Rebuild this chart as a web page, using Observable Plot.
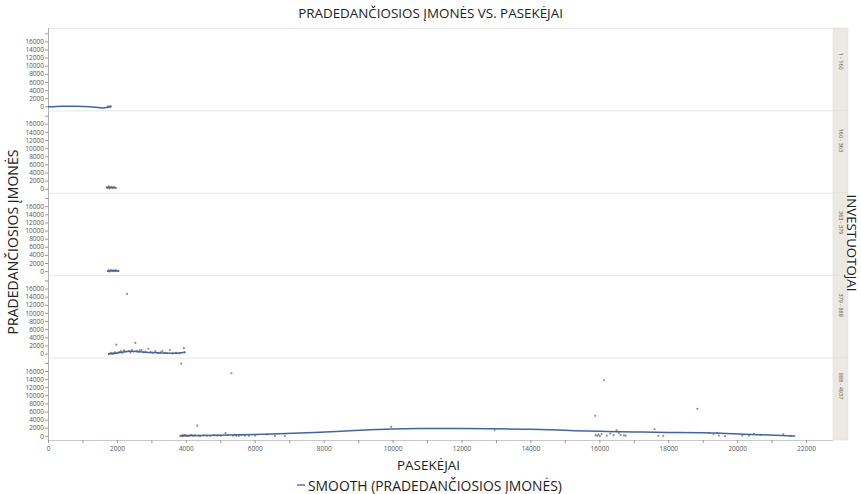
<!DOCTYPE html>
<html><head><meta charset="utf-8">
<script src="https://cdn.jsdelivr.net/npm/d3@7"></script>
<script src="https://cdn.jsdelivr.net/npm/@observablehq/plot@0.6"></script>
<style>body{margin:0;background:#fff;} svg{display:block;font-family:"Open Sans",sans-serif;}</style>
</head><body><div id="chart"></div>
<script>
// Facet categories (INVESTUOTOJAI)
const groups = ["1 - 160", "160 - 363", "363 - 379", "379 - 888", "888 - 4937"];

// Points: PASEKĖJAI (x) and PRADEDANČIOSIOS ĮMONĖS (y), per facet
const g1x = [1720, 1760, 1790, 1810];
const g1y = [50, 150, 0, 100];
const g2x = [1690, 1720, 1750, 1770, 1800, 1830, 1860, 1900, 1950];
const g2y = [500, 300, 700, 200, 400, 600, 300, 500, 250];
const g3x = [1720, 1750, 1780, 1800, 1830, 1860, 1890, 1920, 1950, 1990, 2030];
const g3y = [100, 300, 50, 250, 400, 150, 300, 100, 350, 200, 150];
const g4x = [1750, 1780, 1820, 1850, 1880, 1900, 1930, 1970, 2000, 2050, 2100, 2150, 2190, 2230, 2280, 2330, 2380, 2420, 2470, 2520, 2560, 2600, 2650, 2700, 2760, 2820, 2900, 2960, 3020, 3100, 3180, 3250, 3300, 3380, 3450, 3520, 3600, 3700, 3800, 3930, 3950];
const g4y = [0, 100, 300, 50, 200, 150, 400, 2300, 300, 500, 700, 300, 900, 600, 14800, 800, 400, 1000, 600, 2750, 700, 500, 900, 1000, 400, 600, 1300, 500, 300, 700, 200, 400, 700, 300, 200, 1000, 150, 300, 250, 1450, 400];
const g5x = [3830, 3850, 3880, 3900, 3920, 3950, 3980, 4000, 4050, 4100, 4150, 4200, 4250, 4316, 4350, 4400, 4500, 4600, 4700, 4800, 4900, 5000, 5137, 5200, 5311, 5350, 5400, 5450, 5524, 5600, 5700, 5816, 6000, 6350, 6570, 6860, 9946, 12945, 15866, 15880, 15923, 15960, 16000, 16050, 16118, 16200, 16300, 16400, 16486, 16550, 16600, 16700, 16750, 17588, 17696, 17841, 18827, 19165, 19300, 19407, 19455, 19629, 20132, 20326, 20471, 20664, 21323, 21537];
const g5y = [100, 17950, 300, 50, 200, 400, 150, 300, 100, 250, 400, 150, 300, 2650, 200, 100, 350, 200, 150, 300, 200, 150, 800, 300, 15570, 200, 400, 150, 150, 300, 200, 150, 250, 500, 150, 150, 2360, 1530, 5070, 300, 150, 450, 100, 600, 13840, 200, 700, 300, 1530, 900, 400, 250, 200, 1770, 150, 150, 6800, 900, 600, 900, 220, 50, 220, 220, 640, 390, 540, 50];

// Smooth curves, per facet
const s1x = [0, 400, 800, 1200, 1500, 1700, 1800];
const s1y = [0, 150, 150, 0, -250, -150, 50];
const s2x = [1700, 1800, 1950];
const s2y = [400, 400, 350];
const s3x = [1720, 1880, 2030];
const s3y = [150, 200, 150];
const s4x = [1750, 2000, 2200, 2400, 2600, 2800, 3000, 3300, 3600, 3800, 3950];
const s4y = [50, 250, 550, 700, 600, 450, 350, 250, 200, 250, 450];
const s5x = [3830, 4500, 5500, 6500, 7500, 8500, 9500, 10000, 11000, 12000, 13000, 14000, 15000, 16000, 17000, 18000, 19000, 19500, 20200, 20900, 21650];
const s5y = [150, 250, 400, 600, 900, 1300, 1700, 1850, 1950, 1950, 1900, 1750, 1500, 1250, 1100, 1000, 900, 800, 550, 350, 80];

const xTickValues = [0, 1000, 2000, 3000, 4000, 5000, 6000, 7000, 8000, 9000, 10000, 11000, 12000, 13000, 14000, 15000, 16000, 17000, 18000, 19000, 20000, 21000, 22000];
const yTickValues = [0, 2000, 4000, 6000, 8000, 10000, 12000, 14000, 16000, 18000];

const title = "PRADEDANČIOSIOS ĮMONĖS VS. PASEKĖJAI";
const xTitle = "PASEKĖJAI";
const yTitle = "PRADEDANČIOSIOS ĮMONĖS";
const facetTitle = "INVESTUOTOJAI";
const legendLabel = "SMOOTH (PRADEDANČIOSIOS ĮMONĖS)";

const px = [g1x, g2x, g3x, g4x, g5x], py = [g1y, g2y, g3y, g4y, g5y];
const sx = [s1x, s2x, s3x, s4x, s5x], sy = [s1y, s2y, s3y, s4y, s5y];
const points = groups.flatMap((g, i) => px[i].map((x, j) => ({group: g, x, y: py[i][j]})));
const smooth = groups.flatMap((g, i) => sx[i].map((x, j) => ({group: g, x, y: sy[i][j]})));

const W = 861, H = 494, ML = 48, MR = 28, MT = 28, MB = 54;
const XMAX = 22780, YMIN = -1000, YMAX = 19300;
const stripUnits = 15 * XMAX / (W - ML - MR);
const blue = "#3e64ad";

const plot = Plot.plot({
  width: W, height: H, marginLeft: ML, marginRight: MR, marginTop: MT, marginBottom: MB,
  style: {fontFamily: "Open Sans, sans-serif", fontSize: "6.5px", color: "#555", background: "#fff"},
  x: {domain: [0, XMAX], axis: null},
  y: {domain: [YMIN, YMAX], axis: null},
  fy: {domain: groups, padding: 0, round: false, axis: null},
  marks: [
    Plot.rect(groups, {fy: d => d, x1: XMAX, x2: XMAX + stripUnits, y1: YMIN, y2: YMAX, fill: "#ebe9e2", stroke: "#e2dfd6", strokeWidth: 0.6}),
    Plot.ruleY(groups, {fy: d => d, y: YMAX, stroke: "#e6e6e6", strokeWidth: 1}),
    Plot.ruleY([groups[groups.length - 1]], {fy: d => d, y: YMIN, stroke: "#c8c8c8", strokeWidth: 1}),
    Plot.ruleX([0], {stroke: "#b0b0b0"}),
    Plot.axisY({ticks: yTickValues, tickFormat: d => d > 16000 ? "" : String(d), tickSize: 3, tickPadding: 1.5, fontSize: 6.5, stroke: "#999", label: null}),
    Plot.axisX({ticks: xTickValues, tickFormat: d => d % 2000 ? "" : String(d), tickSize: 3, tickPadding: 3, fontSize: 6.5, stroke: "#999", label: null}),
    Plot.dot(points, {x: "x", y: "y", fy: "group", r: 1.1, fill: "#8f8f8f", stroke: "none"}),
    Plot.line(smooth, {x: "x", y: "y", fy: "group", z: "group", stroke: blue, strokeWidth: 1.5, curve: "natural"}),
    Plot.text(groups, {fy: d => d, text: d => d, frameAnchor: "right", dx: 7.5, rotate: 90, fontSize: 5.5, fill: "#555"})
  ]
});

document.getElementById("chart").append(plot);

const svg = d3.select(plot);
function addText(str, tx, ty, rot, targetWidth, anchor) {
  const t = svg.append("text").attr("text-anchor", anchor).attr("font-size", 12).attr("fill", "#222")
    .attr("transform", `translate(${tx},${ty}) rotate(${rot})`).text(str);
  const w = t.node().getComputedTextLength();
  if (w > 0) t.attr("font-size", 12 * targetWidth / w);
  return t;
}
addText(title, 430.5, 18, 0, 265, "middle");
addText(xTitle, 428.5, 470, 0, 63, "middle");
addText(yTitle, 18, 242, -90, 185, "middle");
addText(facetTitle, 846.5, 243, 90, 97, "middle");
svg.append("line").attr("x1", 297).attr("x2", 305).attr("y1", 485).attr("y2", 485)
  .attr("stroke", blue).attr("stroke-width", 1.3);
addText(legendLabel, 308, 491, 0, 254, "start");
</script>
</body></html>
